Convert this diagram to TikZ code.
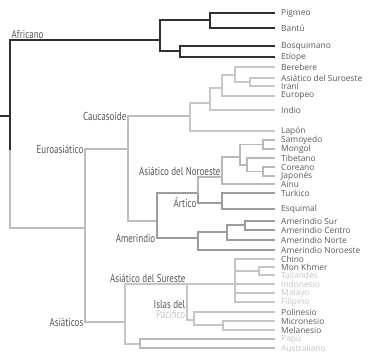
\documentclass[tikz,border=0pt]{standalone}
\usepackage{fontspec}
\setmainfont{PT Sans}
\newfontfamily\grpfont[FakeStretch=0.78]{PT Sans}
\newfontfamily\leaffont{Open Sans}
\usetikzlibrary{calc}
\definecolor{afrgray}{HTML}{303030}
\definecolor{eurgray}{HTML}{BDBDBD}
\definecolor{caugray}{HTML}{C8C8C8}
\definecolor{neagray}{HTML}{B8B8B8}
\definecolor{midgray}{HTML}{9C9C9C}
\definecolor{asigray}{HTML}{C6C6C6}
\definecolor{leaftext}{HTML}{5A5A5A}
\definecolor{fainttext}{HTML}{C4C4C4}
\definecolor{grptext}{HTML}{555555}
\tikzstyle{leaf} = [anchor=west, inner xsep=6pt, inner ysep=0pt, font=\leaffont\fontsize{8.4}{9}\selectfont, text=leaftext]
\tikzstyle{faint leaf} = [leaf, text=fainttext]
\tikzstyle{grp} = [font=\grpfont\fontsize{11.5}{12}\selectfont, text=grptext, inner sep=1.5pt]

\begin{document}
\begin{tikzpicture}[x=1pt, y=-1pt]
\useasboundingbox (0,0) rectangle (371,359);
\tikzstyle{afr}=[draw=afrgray, line width=2.3pt]
\tikzstyle{eur}=[draw=eurgray, line width=2pt]
\tikzstyle{cau}=[draw=caugray, line width=1.4pt]
\tikzstyle{nea}=[draw=neagray, line width=1.4pt]
\tikzstyle{mid}=[draw=midgray, line width=1.8pt]
\tikzstyle{asi}=[draw=asigray, line width=1.5pt]

    % junctions
    \coordinate (start) at (0,116);
    \coordinate (root) at (10,116);
    \coordinate (rootdk) at (10,150);
    \coordinate (af) at (160,40);
    \coordinate (pb) at (210,20);
    \coordinate (be) at (180,51);
    \coordinate (na) at (85,228);
    \coordinate (eu) at (128,149);
    \coordinate (cau) at (190,116);
    \coordinate (ci) at (210,103);
    \coordinate (cb) at (222,88);
    \coordinate (cbs) at (235,75);
    \coordinate (si) at (250,82);
    \coordinate (am) at (157,221);
    \coordinate (nea) at (198,193);
    \coordinate (ne) at (222,177);
    \coordinate (ne1) at (240,157);
    \coordinate (sm) at (263,144.5);
    \coordinate (tkj) at (247,165);
    \coordinate (kj) at (263,171.5);
    \coordinate (ar) at (222,203);
    \coordinate (amr) at (198,238);
    \coordinate (scn) at (227,232);
    \coordinate (sc) at (245,225);
    \coordinate (as) at (125,322);
    \coordinate (sp) at (187,284);
    \coordinate (sea) at (235,284);
    \coordinate (mk) at (259,271);
    \coordinate (pac) at (194,320);
    \coordinate (mm) at (223,325);
    \coordinate (pa) at (140,344);

    % leaves
    \node[leaf] (pig) at (275,13) {Pigmeo};
    \node[leaf] (ban) at (275,28) {Bantú};
    \node[leaf] (bos) at (275,46) {Bosquimano};
    \node[leaf] (eti) at (275,57) {Etíope};
    \node[leaf] (ber) at (275,67) {Berebere};
    \node[leaf] (swa) at (275,78) {Asiático del Suroeste};
    \node[leaf] (ira) at (275,86) {Iraní};
    \node[leaf] (eurp) at (275,96) {Europeo};
    \node[leaf] (ind) at (275,110) {Indio};
    \node[leaf] (lap) at (275,131) {Lapón};
    \node[leaf] (sam) at (275,140) {Samoyedo};
    \node[leaf] (mon) at (275,149) {Mongol};
    \node[leaf] (tib) at (275,158) {Tibetano};
    \node[leaf] (cor) at (275,167) {Coreano};
    \node[leaf] (jap) at (275,176) {Japonés};
    \node[leaf] (ain) at (275,184) {Ainu};
    \node[leaf] (tur) at (275,193) {Turkico};
    \node[leaf] (esq) at (275,209) {Esquimal};
    \node[leaf] (sur) at (275,221) {Amerindio Sur};
    \node[leaf] (cen) at (275,230) {Amerindio Centro};
    \node[leaf] (nor) at (275,240) {Amerindio Norte};
    \node[leaf] (now) at (275,250) {Amerindio Noroeste};
    \node[leaf] (chi) at (275,259) {Chino};
    \node[leaf] (mkh) at (275,267) {Mon Khmer};
    \node[faint leaf] (tai) at (275,275) {Tailandés};
    \node[faint leaf] (indo) at (275,284) {Indonesio};
    \node[faint leaf] (mal) at (275,293) {Malayo};
    \node[faint leaf] (fil) at (275,302) {Filipino};
    \node[leaf] (pol) at (275,312) {Polinesio};
    \node[leaf] (mic) at (275,321) {Micronesio};
    \node[leaf] (mel) at (275,330) {Melanesio};
    \node[faint leaf] (pap) at (275,339) {Papú};
    \node[faint leaf] (aus) at (275,348) {Australiano};

    % Euroasian and Asian trunk
    \draw[eur] (root) |- (na);
    \draw[eur] (na) |- (eu) (na) |- (as);
    \draw[eur] (eu) |- (cau) (eu) |- (am);

    % African part
    \draw[afr] (start) -- (root);
    \draw[afr] (rootdk) -- (root) |- (af);
    \draw[afr] (af) |- (pb) (af) |- (be);
    \draw[afr] (pb) |- (pig.west) (pb) |- (ban.west);
    \draw[afr] (be) |- (bos.west) (be) |- (eti.west);

    % Caucasoid
    \draw[cau] (cau) |- (ci) (cau) |- (lap.west);
    \draw[cau] (ci) |- (cb) (ci) |- (ind.west);
    \draw[cau] (cb) |- (cbs) (cb) |- (eurp.west);
    \draw[cau] (cbs) |- (ber.west) (cbs) |- (si);
    \draw[cau] (si) |- (swa.west) (si) |- (ira.west);

    % Northeast Asian, Arctic, Amerindian
    \draw[mid] (am) |- (nea) (am) |- (amr);
    \draw[mid] (nea) |- (ar);
    \draw[nea] (nea) |- (ne);
    \draw[nea] (ne) |- (ne1) (ne) |- (ain.west);
    \draw[nea] (ne1) |- (sm) (ne1) |- (tkj);
    \draw[nea] (sm) |- (sam.west) (sm) |- (mon.west);
    \draw[nea] (tkj) |- (tib.west) (tkj) |- (kj);
    \draw[nea] (kj) |- (cor.west) (kj) |- (jap.west);
    \draw[mid] (ar) |- (tur.west) (ar) |- (esq.west);
    \draw[mid] (amr) |- (scn) (amr) |- (now.west);
    \draw[mid] (scn) |- (sc) (scn) |- (nor.west);
    \draw[mid] (sc) |- (sur.west) (sc) |- (cen.west);

    % Asian
    \draw[asi] (as) |- (sp) (as) |- (pa);
    \draw[asi] (sp) |- (sea) (sp) |- (pac);
    \draw[asi] (sea) |- (chi.west) (sea) |- (mk) (sea) |- (indo.west)
               (sea) |- (mal.west) (sea) |- (fil.west);
    \draw[asi] (mk) |- (mkh.west) (mk) |- (tai.west);
    \draw[asi] (pac) |- (pol.west) (pac) |- (mm);
    \draw[asi] (mm) |- (mic.west) (mm) |- (mel.west);
    \draw[asi, draw=neagray] (pa) |- (pap.west) (pa) |- (aus.west);

    % group labels
    \node[grp, anchor=south west] (lafr) at (root |- af) {Africano};
    \node[grp, anchor=east] (lcau) at (eu |- cau) {Caucasoide};
    \node[grp, anchor=east] (leur) at (na |- eu) {Euroasiático};
    \node[grp, anchor=east] (lasi) at (na |- as) {Asiáticos};
    \node[grp, anchor=south east] (lnea) at (ne) {Asiático del Noroeste};
    \node[grp, anchor=east] (lart) at (nea |- ar) {Ártico};
    \node[grp, anchor=east] (lamr) at (am |- amr) {Amerindio};
    \node[grp, anchor=south east] (lsea) at (sp) {Asiático del Sureste};
    \node[grp, anchor=east, align=right] (lpac) at ($(sp |- pac)+(0,-10)$) {Islas del\\[-2pt]\textcolor{fainttext}{Pacífico}};

\end{tikzpicture}
\end{document}
